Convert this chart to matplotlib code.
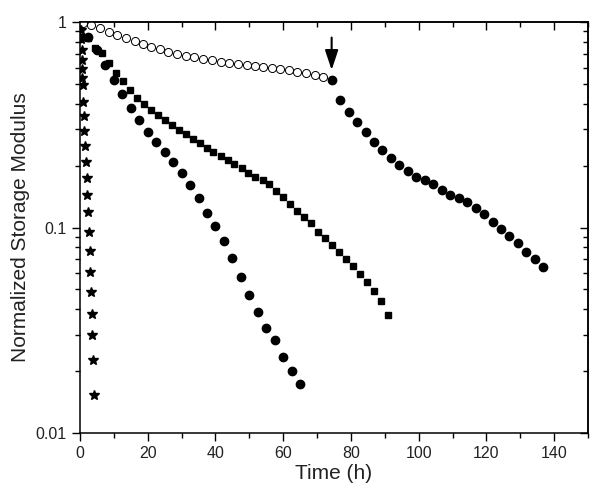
import matplotlib.pyplot as plt
from matplotlib.ticker import FixedLocator, MultipleLocator, LogLocator, NullFormatter, FixedFormatter

plt.rcParams['font.family'] = ['Liberation Sans', 'DejaVu Sans']

# stars - fastest decay
star_t = [0.3, 0.44, 0.53, 0.59, 0.65, 0.74, 0.83, 0.94, 1.09, 1.27, 1.54, 1.77,
          2.01, 2.21, 2.42, 2.63, 2.86, 3.01, 3.25, 3.45, 3.63, 3.84, 4.13]
star_g = [0.914, 0.824, 0.733, 0.653, 0.590, 0.535, 0.494, 0.410, 0.349, 0.295, 0.250, 0.209,
          0.175, 0.144, 0.119, 0.0954, 0.0768, 0.0609, 0.0486, 0.0381, 0.0299, 0.0227, 0.0153]

# filled circles - steep series
circle_t = [0, 2.5, 5, 7.5, 10, 12.5, 15, 17.5, 20, 22.5, 25, 27.5, 30, 32.5,
            35, 37.5, 40, 42.5, 45, 47.5, 50, 52.5, 55, 57.5, 60, 62.5, 65]
circle_g = [0.836, 0.845, 0.731, 0.620, 0.522, 0.444, 0.382, 0.332, 0.292, 0.2616, 0.2322,
            0.2076, 0.1848, 0.1606, 0.1391, 0.1173, 0.1020, 0.0862, 0.0708, 0.0576, 0.0472,
            0.0387, 0.0325, 0.0282, 0.0234, 0.0200, 0.0173]

# squares
square_t = [0.3, 2.4, 4.4, 6.5, 8.5, 10.6, 12.7, 14.7, 16.8, 18.8, 20.9, 23.0, 25.0, 27.1,
            29.1, 31.2, 33.3, 35.3, 37.4, 39.4, 41.5, 43.6, 45.6, 47.7, 49.7, 51.8, 53.9,
            55.9, 58.0, 60.0, 62.1, 64.2, 66.2, 68.3, 70.3, 72.4, 74.5, 76.5, 78.6, 80.6,
            82.7, 84.8, 86.8, 88.9, 90.9]
square_g = [0.845, 0.836, 0.747, 0.707, 0.632, 0.565, 0.514, 0.468, 0.429, 0.401, 0.373,
            0.353, 0.334, 0.315, 0.298, 0.284, 0.270, 0.257, 0.244, 0.234, 0.223, 0.213,
            0.203, 0.194, 0.185, 0.177, 0.170, 0.162, 0.151, 0.141, 0.130, 0.120, 0.113,
            0.1055, 0.0954, 0.0886, 0.0819, 0.0760, 0.0700, 0.0650, 0.0596, 0.0546, 0.0493,
            0.0437, 0.0376]

# open circles, then filled circles after the arrow
open_t = [0.8, 3.3, 5.9, 8.6, 11.0, 13.6, 16.1, 18.6, 21.1, 23.6, 26.1, 28.7, 31.3, 33.8,
          36.4, 38.9, 41.5, 44.0, 46.6, 49.2, 51.7, 54.1, 56.6, 59.2, 61.7, 64.2, 66.8,
          69.3, 71.8]
open_g = [0.992, 0.967, 0.932, 0.897, 0.864, 0.833, 0.806, 0.782, 0.758, 0.736, 0.717,
          0.701, 0.685, 0.673, 0.661, 0.651, 0.641, 0.634, 0.627, 0.620, 0.614, 0.606,
          0.599, 0.591, 0.582, 0.573, 0.563, 0.552, 0.540]
after_t = [74.3, 76.8, 79.3, 81.8, 84.3, 86.8, 89.3, 91.8, 94.3, 96.8, 99.3, 101.8, 104.3,
           106.8, 109.3, 111.8, 114.3, 116.8, 119.3, 121.8, 124.3, 126.8, 129.3, 131.8,
           134.3, 136.8]
after_g = [0.522, 0.416, 0.364, 0.325, 0.292, 0.262, 0.238, 0.217, 0.201, 0.188, 0.177,
           0.170, 0.162, 0.153, 0.144, 0.139, 0.133, 0.124, 0.116, 0.106, 0.098, 0.091,
           0.084, 0.076, 0.0705, 0.064]

arrow_t = 74.3
arrow_from = 0.84
arrow_to = 0.584

fig = plt.figure(figsize=(6.01, 4.96), dpi=100)
ax = fig.add_axes([0.1331, 0.1270, 0.8453, 0.8286])

ax.plot(open_t, open_g, 'o', ms=5.8, mfc='white', mec='k', mew=0.7, ls='none')
ax.plot(after_t, after_g, 'o', ms=6, color='k', ls='none')
ax.plot(square_t, square_g, 's', ms=4.8, color='k', ls='none')
ax.plot(circle_t, circle_g, 'o', ms=6, color='k', ls='none')
ax.plot(star_t, star_g, '*', ms=7, color='k', ls='none')

ax.annotate('', xy=(arrow_t, arrow_to), xytext=(arrow_t, arrow_from),
            arrowprops=dict(arrowstyle='-|>,head_length=0.6,head_width=0.2',
                            color='k', lw=1.5, mutation_scale=20, shrinkA=0, shrinkB=0))

ax.set_yscale('log')
ax.set_xlim(0, 150)
ax.set_ylim(0.01, 1)

ax.xaxis.set_major_locator(MultipleLocator(20))
ax.xaxis.set_minor_locator(MultipleLocator(10))
ax.yaxis.set_major_locator(FixedLocator([0.01, 0.1, 1]))
ax.yaxis.set_major_formatter(FixedFormatter(['0.01', '0.1', '1']))
ax.yaxis.set_minor_locator(LogLocator(base=10, subs=range(2, 10)))
ax.yaxis.set_minor_formatter(NullFormatter())

ax.tick_params(which='major', direction='out', length=6, width=1, labelsize=11.5,
               labelcolor='#222222')
ax.tick_params(which='minor', direction='out', length=3.5, width=1)

top = ax.secondary_xaxis('top')
top.xaxis.set_major_locator(MultipleLocator(20))
top.xaxis.set_minor_locator(MultipleLocator(10))
top.tick_params(which='major', direction='in', length=6, width=1, labeltop=False)
top.tick_params(which='minor', direction='in', length=3.5, width=1)

right = ax.secondary_yaxis('right')
right.yaxis.set_major_locator(FixedLocator([0.01, 0.1, 1]))
right.yaxis.set_minor_locator(LogLocator(base=10, subs=range(2, 10)))
right.yaxis.set_minor_formatter(NullFormatter())
right.tick_params(which='major', direction='in', length=6, width=1, labelright=False)
right.tick_params(which='minor', direction='in', length=3.5, width=1)

for a in (ax, top, right):
    for s in a.spines.values():
        s.set_linewidth(1.1)

ax.set_xlabel('Time (h)', fontsize=15, color='#222222', labelpad=2)
ax.set_ylabel('Normalized Storage Modulus', fontsize=15, color='#222222', labelpad=4)

fig.savefig('out.png', dpi=100)
